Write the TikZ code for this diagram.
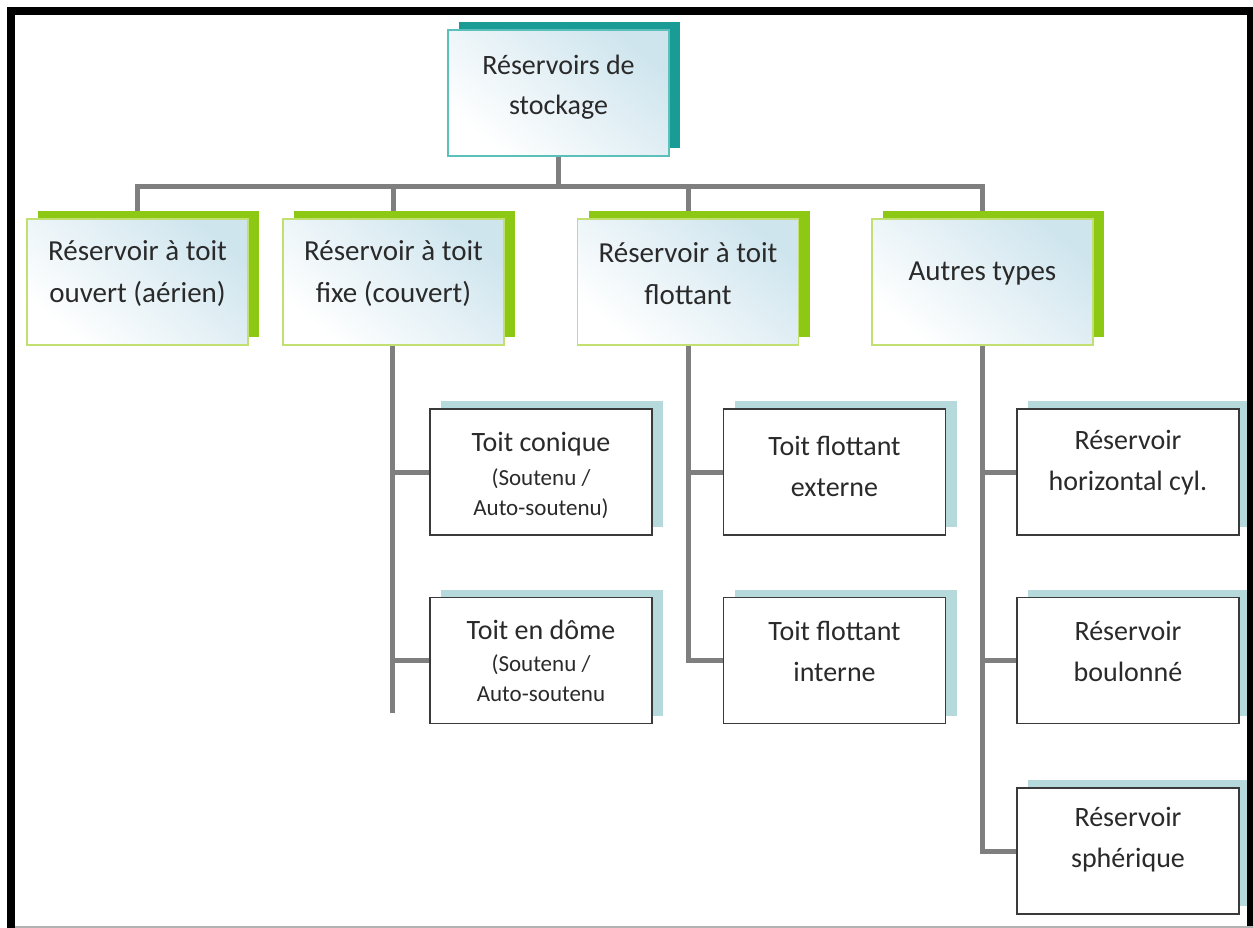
\documentclass[tikz,border=0pt]{standalone}
\usepackage{fontspec}
\setmainfont{Carlito}
\usetikzlibrary{shadows,backgrounds}

\definecolor{linkgray}{HTML}{7F7F7F}
\definecolor{leafgreen}{HTML}{8CC814}
\definecolor{rimgreen}{HTML}{C2E070}
\definecolor{rootteal}{HTML}{1A9C96}
\definecolor{rimteal}{HTML}{5CC0BA}
\definecolor{paleteal}{HTML}{B6DADC}
\definecolor{paleblue}{HTML}{CFE5EE}
\definecolor{inkgray}{HTML}{2A2A2A}
\definecolor{boxrim}{HTML}{3A3A3A}

\begin{document}
\begin{tikzpicture}[x=1pt,y=-1pt,
  link/.style={draw=linkgray, line width=5pt},
  headbox/.style={minimum width=221pt, minimum height=126pt, inner sep=0pt,
    top color=paleblue, bottom color=white, shading angle=-40},
  rootbox/.style={headbox, draw=rimteal, line width=1.3pt,
    general shadow={fill=rootteal, shadow xshift=11pt, shadow yshift=8pt}},
  typebox/.style={headbox, draw=rimgreen, line width=1.5pt,
    general shadow={fill=leafgreen, shadow xshift=11pt, shadow yshift=8pt}},
  leafbox/.style={minimum width=222pt, minimum height=126pt, inner sep=0pt,
    fill=white, draw=boxrim, line width=1.8pt,
    general shadow={fill=paleteal, shadow xshift=11pt, shadow yshift=8pt}},
  headtext/.style={align=center, text=inkgray, inner sep=0pt,
    font=\fontsize{29}{42}\selectfont},
  leaftext/.style={align=center, text=inkgray, inner sep=0pt,
    font=\fontsize{28}{41}\selectfont},
  subtext/.style={align=center, text=inkgray, inner sep=0pt,
    font=\fontsize{23}{30}\selectfont},
]
\useasboundingbox (0,0) rectangle (1253,928);

% root
\node[rootbox, label={[headtext, name=root-t, yshift=6pt,
  font=\fontsize{28}{40}\selectfont]center:{Réservoirs de\\stockage}}]
  (root) at (558.5,93) {};

% first level: roof types
\node[typebox, label={[headtext, name=open-t, yshift=8.5pt]center:{Réservoir à toit\\ouvert (aérien)}}]
  (open) at (137.5,282) {};
\node[typebox, label={[headtext, name=fixed-t, yshift=8.5pt]center:{Réservoir à toit\\fixe (couvert)}}]
  (fixed) at (393.5,282) {};
\node[typebox, label={[headtext, name=float-t, yshift=8.5pt]center:{Réservoir à toit\\flottant}}]
  (float) at (688,282) {};
\node[typebox, label={[headtext, name=other-t, yshift=8.5pt]center:{Autres types}}]
  (other) at (982.5,282) {};

% fixed roof variants
\node[leafbox, label={[subtext, name=cone-t, yshift=-3pt]center:{{\fontsize{28}{30}\selectfont Toit conique}\\[4pt](Soutenu /\\Auto-soutenu)}}]
  (cone) at (541,472) {};
\node[leafbox, label={[subtext, name=dome-t]center:{{\fontsize{28}{30}\selectfont Toit en dôme}\\[2pt](Soutenu /\\Auto-soutenu}}]
  (dome) at (541,660.5) {};

% floating roof variants
\node[leafbox, label={[leaftext, name=ext-t, yshift=6pt]center:{Toit flottant\\externe}}]
  (ext) at (834.5,472) {};
\node[leafbox, label={[leaftext, name=int-t, yshift=9pt]center:{Toit flottant\\interne}}]
  (int) at (834.5,660.5) {};

% other tank types
\node[leafbox, label={[leaftext, name=horiz-t, yshift=9pt]center:{Réservoir\\horizontal cyl.}}]
  (horiz) at (1128,472) {};
\node[leafbox, label={[leaftext, name=bolt-t, yshift=9pt]center:{Réservoir\\boulonné}}]
  (bolt) at (1128,660.5) {};
\node[leafbox, label={[leaftext, name=sphere-t, yshift=11pt]center:{Réservoir\\sphérique}}]
  (sphere) at (1128,851) {};

\coordinate (bus) at (558.5,187);
\coordinate (fixed-end) at (392,713);

\begin{scope}[on background layer]
  \fill[white] (0,0) rectangle (1253,928);

  \draw[link] (root.south) -- (bus);
  \draw[link] (open.north) -- (open.north |- bus) -- (other.north |- bus) -- (other.north);
  \draw[link] (fixed.north |- bus) -- (fixed.north);
  \draw[link] (float.north |- bus) -- (float.north);

  \draw[link] (fixed.south -| fixed-end) -- (fixed-end);
  \draw[link] (fixed-end |- cone.west) -- (cone.west);
  \draw[link] (fixed-end |- dome.west) -- (dome.west);

  \draw[link] (float.south) |- (int.west);
  \draw[link] (float.south |- ext.west) -- (ext.west);

  \draw[link] (other.south) |- (sphere.west);
  \draw[link] (other.south |- horiz.west) -- (horiz.west);
  \draw[link] (other.south |- bolt.west) -- (bolt.west);
\end{scope}

% page frame
\draw[line width=8pt] (11,940) -- (11,11) -- (1251,11) -- (1251,940);
\draw[black!30, line width=2pt] (15,926.5) -- (1253,926.5);
\end{tikzpicture}
\end{document}
